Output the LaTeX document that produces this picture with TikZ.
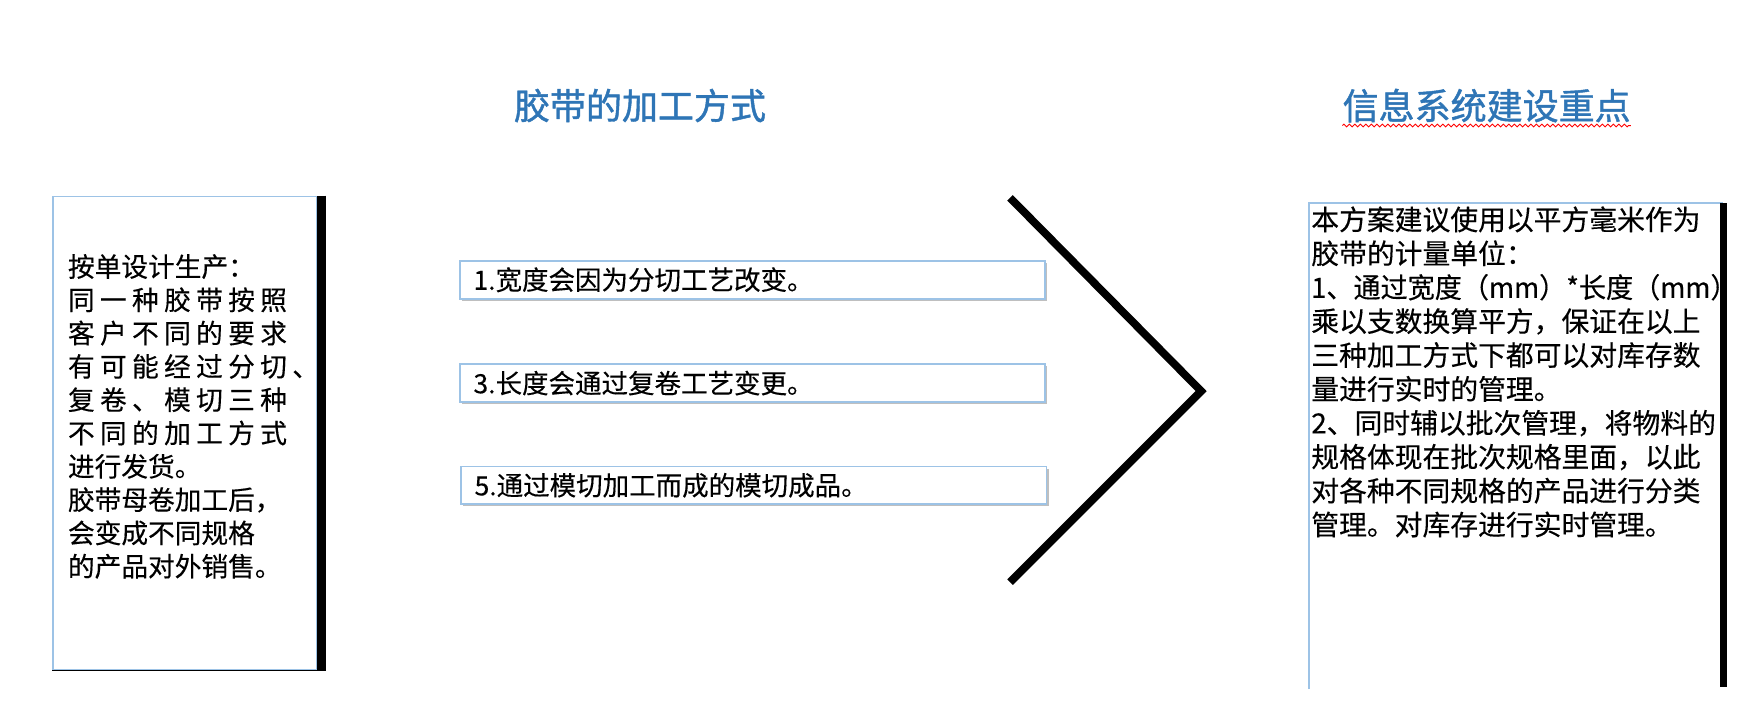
\documentclass[tikz,border=0pt]{standalone}
\usepackage{fontspec}
\setmainfont{Noto Sans CJK SC}[FakeBold=0.3]
\newfontfamily\titlefont[FakeBold=1.2]{Noto Sans CJK SC}
\usetikzlibrary{decorations.pathmorphing,shadows}
\definecolor{titleblue}{HTML}{2E75B6}
\definecolor{edgeblue}{HTML}{9DC3E6}
\definecolor{shadowgray}{HTML}{BFBFBF}
\def\spreadchars#1{\spreadfirst#1\endspread}
\def\spreadfirst#1{#1\spreadrest}
\def\spreadrest#1{\ifx#1\endspread\else\hfil#1\expandafter\spreadrest\fi}
\newcommand\jline[2]{\leavevmode\hbox to #1{\spreadchars{#2}}}
\tikzset{
  titletext/.style={font=\titlefont\fontsize{36}{42}\selectfont, text=titleblue, inner sep=0pt},
  edgeline/.style={draw=edgeblue, line width=1.7pt},
  blackbar/.style={draw=black, line width=#1},
  midbox/.style={draw=edgeblue, line width=1.7pt, fill=white, inner sep=0pt,
    minimum width=585.5pt, minimum height=37.8pt, anchor=north west,
    drop shadow={shadow xshift=2.2pt, shadow yshift=-2.2pt, fill=shadowgray, opacity=1}},
  midtext/.style={font=\fontsize{26.5}{31}\selectfont, inner sep=0pt, anchor=west},
  plainbox/.style={inner sep=0pt, anchor=north west},
}
\begin{document}
\begin{tikzpicture}[x=1.1111pt,y=-1.1111pt]
\useasboundingbox[fill=white] (0,0) rectangle (1566,646.2);

% titles
\node[titletext] (title1) at (576,95) {胶带的加工方式};
\node[titletext] (title2) at (1338,95) {信息系统建设重点};
\draw[red, line width=0.9pt, decorate, decoration={zigzag, segment length=5.5pt, amplitude=1.4pt}]
  ([yshift=-3pt]title2.south west) -- ([yshift=-3pt]title2.south east);

% left box
\node[plainbox, edgeline, minimum width=263.3pt, minimum height=473.3pt] (lbox) at (47,176) {};
\draw[blackbar=8.9pt] ([xshift=4.45pt]lbox.north east) -- ([xshift=4.45pt]lbox.south east);
\draw[blackbar=1.7pt] (lbox.south west) -- ([xshift=8.9pt]lbox.south east);
\node[anchor=base west, inner sep=0pt] (ltext) at (61,249) {\parbox[t]{267pt}{\fontsize{26.7}{33.3}\selectfont\raggedright
按单设计生产：\\
\jline{219pt}{同一种胶带按照}\\
\jline{219pt}{客户不同的要求}\\
\jline{251pt}{有可能经过分切、}\\
\jline{219pt}{复卷、模切三种}\\
\jline{219pt}{不同的加工方式}\\
进行发货。\\
胶带母卷加工后，\\
会变成不同规格\\
的产品对外销售。}};

% middle boxes
\node[midbox] (m1) at (413,234) {};
\node[midbox] (m3) at (413,327) {};
\node[midbox] (m5) at (414,419) {};
\node[midtext] (m1t) at ([xshift=14.4pt]m1.west) {1.宽度会因为分切工艺改变。};
\node[midtext] (m3t) at ([xshift=14.4pt]m3.west) {3.长度会通过复卷工艺变更。};
\node[midtext] (m5t) at ([xshift=14.4pt]m5.west) {5.通过模切加工而成的模切成品。};

% chevron
\coordinate (c1) at (909,178);
\coordinate (c2) at (1081,352);
\coordinate (c3) at (909,524);
\draw[line width=7.8pt] (c1) -- (c2) -- (c3);

% right box
\node[plainbox, minimum width=413.3pt, minimum height=485.5pt] (rbox) at (1178,183) {};
\draw[edgeline] (rbox.south west) -- (rbox.north west) -- (rbox.north east);
\draw[blackbar=6.7pt] ([xshift=1.1pt]rbox.north east) -- ([xshift=1.1pt,yshift=2.2pt]rbox.south east);
\node[anchor=base west, inner sep=0pt] (rtext) at (1180,207) {\parbox[t]{413pt}{\fontsize{27.8}{33.9}\selectfont\raggedright
本方案建议使用以平方毫米作为\\
胶带的计量单位：\\
\scalebox{0.975}[1]{1、通过宽度（mm）*长度（mm）}\\
乘以支数换算平方，保证在以上\\
三种加工方式下都可以对库存数\\
量进行实时的管理。\\
2、同时辅以批次管理，将物料的\\
规格体现在批次规格里面，以此\\
对各种不同规格的产品进行分类\\
管理。对库存进行实时管理。}};
\end{tikzpicture}
\end{document}
